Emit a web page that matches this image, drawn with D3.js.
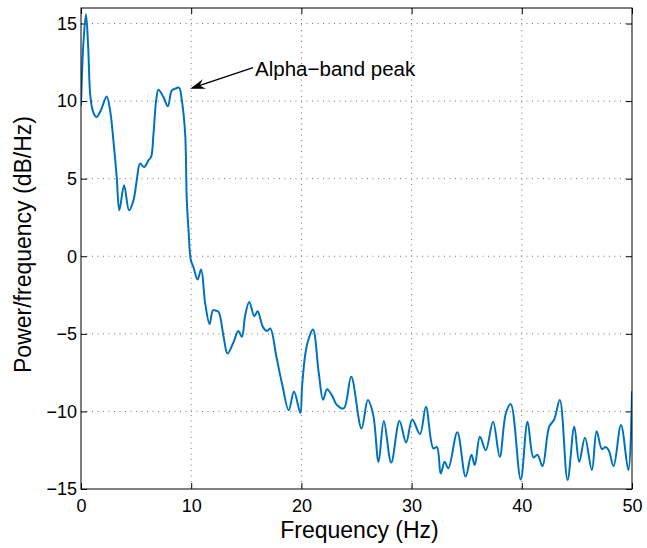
<!DOCTYPE html>
<html>
<head>
<meta charset="utf-8">
<script src="https://cdn.jsdelivr.net/npm/d3@7"></script>
<style>
  body { margin: 0; background: #fff; }
  text { font-family: "Liberation Sans", Arial, Helvetica, sans-serif; fill: #000; }
</style>
</head>
<body>
<svg id="chart" width="647" height="548"></svg>
<script>
// frequency (Hz) and power (dB/Hz)
var freq = [0, 0.2, 0.45, 0.65, 0.85, 1.1, 1.4, 1.8, 2.33, 2.64, 2.94, 3.24, 3.48, 3.91, 4.36, 4.76, 5.06, 5.36, 5.73, 6.12,
    6.36, 6.58, 6.82, 7.03, 7.48, 7.88, 8.24, 8.55, 8.9, 9.15, 9.45, 9.6, 9.76, 9.97, 10.2, 10.58, 10.9, 11.27, 11.67, 11.97,
    12.2, 12.48, 12.94, 13.3, 13.85, 14.27, 14.6, 14.9, 15.27, 15.73, 16.03, 16.5, 16.88, 17.18, 17.73, 18.24, 18.85, 19.33, 19.9, 20.06,
    20.36, 20.67, 21.05, 21.58, 21.97, 22.33, 22.79, 23.24, 23.85, 24.52, 25.45, 26.03, 26.52, 27.0, 27.48, 28.15, 28.9, 29.5, 30.06, 30.76,
    31.3, 31.97, 32.3, 32.64, 33.0, 33.33, 34.15, 34.9, 35.43, 35.73, 36.2, 36.73, 37.39, 38.0, 38.55, 39.0, 39.9, 40.52, 41.06, 41.42,
    41.88, 42.48, 42.94, 43.45, 44.15, 44.76, 45.21, 45.73, 46.36, 46.79, 47.27, 47.6, 47.88, 48.33, 49.0, 49.67, 50];
var power = [9.7, 13.5, 15.6, 13.5, 10.3, 9.3, 8.97, 9.4, 10.3, 9.4, 7.47, 5.1, 2.96, 4.57, 2.96, 3.6, 4.9, 5.97, 5.75, 6.18,
    6.4, 7.9, 10.05, 10.73, 10.26, 9.66, 10.69, 10.8, 10.86, 10.05, 7.9, 3.6, 1.67, -0.26, -0.69, -1.5, -0.86, -3.05, -4.38, -3.48,
    -3.5, -3.58, -5.19, -6.27, -5.52, -4.81, -5.19, -3.8, -2.94, -3.86, -3.54, -4.55, -4.81, -4.66, -6.48, -8.2, -9.92, -8.72, -10.1, -8.4,
    -6.27, -5.3, -4.72, -7.55, -9.25, -8.57, -9.0, -9.6, -9.8, -7.77, -11.1, -9.27, -10.24, -13.25, -10.62, -13.3, -10.62, -12.0, -10.52, -11.46,
    -9.7, -12.38, -12.3, -14.0, -13.25, -13.67, -11.35, -14.2, -12.8, -13.46, -11.63, -12.5, -10.67, -12.92, -10.13, -9.53, -14.38, -10.67, -12.96, -12.8,
    -13.52, -10.99, -10.52, -9.27, -14.42, -10.99, -13.25, -11.7, -13.78, -11.27, -12.43, -12.3, -12.49, -13.52, -10.88, -13.78, -8.7];

var xTicks = [0, 10, 20, 30, 40, 50];
var yTicks = [-15, -10, -5, 0, 5, 10, 15];
var xLabel = "Frequency (Hz)";
var yLabel = "Power/frequency (dB/Hz)";
var noteText = "Alpha\u2212band peak";
var notePoint = [9.9, 10.8];

var margin = {top: 8, right: 15, bottom: 59, left: 81};
var width = 647 - margin.left - margin.right;
var height = 548 - margin.top - margin.bottom;

var svg = d3.select("#chart");
var g = svg.append("g").attr("transform", "translate(" + margin.left + "," + margin.top + ")");

var x = d3.scaleLinear().domain([0, 50]).range([0, width]);
var y = d3.scaleLinear().domain([-15, 16]).range([height, 0]);

// dotted grid
g.append("g").selectAll("line").data(xTicks.filter(function(d) { return d > 0 && d < 50; }))
  .enter().append("line")
  .attr("x1", function(d) { return x(d); }).attr("x2", function(d) { return x(d); })
  .attr("y1", 0).attr("y2", height)
  .attr("stroke", "#777").attr("stroke-width", 1).attr("stroke-dasharray", "1,4.5");

g.append("g").selectAll("line").data(yTicks.filter(function(d) { return d > -15; }))
  .enter().append("line")
  .attr("x1", 0).attr("x2", width)
  .attr("y1", function(d) { return y(d); }).attr("y2", function(d) { return y(d); })
  .attr("stroke", "#777").attr("stroke-width", 1).attr("stroke-dasharray", "1,4.5");

// axes, ticks pointing inward like matlab
var fmt = d3.format("d");
function styleAxis(sel) {
  sel.select(".domain").remove();
  sel.selectAll(".tick line").attr("stroke", "#000");
  sel.selectAll(".tick text").style("font-size", "18px").style("font-family", "Liberation Sans, Arial, sans-serif");
}

g.append("g").attr("transform", "translate(0," + height + ")")
  .call(d3.axisBottom(x).tickValues(xTicks).tickFormat(fmt).tickSizeInner(-6).tickPadding(10))
  .call(styleAxis);
g.append("g")
  .call(d3.axisTop(x).tickValues(xTicks).tickSizeInner(-6).tickFormat(""))
  .call(styleAxis);
g.append("g")
  .call(d3.axisLeft(y).tickValues(yTicks).tickFormat(fmt).tickSizeInner(-6).tickPadding(4))
  .call(styleAxis);
g.append("g").attr("transform", "translate(" + width + ",0)")
  .call(d3.axisRight(y).tickValues(yTicks).tickSizeInner(-6).tickFormat(""))
  .call(styleAxis);

// clip and line
g.append("clipPath").attr("id", "clip")
  .append("rect").attr("width", width).attr("height", height);

var line = d3.line()
  .x(function(d) { return x(d[0]); })
  .y(function(d) { return y(d[1]); })
  .curve(d3.curveCatmullRom.alpha(0.5));

g.append("path")
  .datum(d3.zip(freq, power))
  .attr("clip-path", "url(#clip)")
  .attr("fill", "none")
  .attr("stroke", "#0072BD")
  .attr("stroke-width", 2)
  .attr("stroke-linejoin", "round")
  .attr("d", line);

// frame
g.append("rect").attr("width", width).attr("height", height)
  .attr("fill", "none").attr("stroke", "#000").attr("stroke-width", 1);

// annotation arrow
var tipX = x(notePoint[0]), tipY = y(notePoint[1]);
var tailX = tipX + 63, tailY = tipY - 21;
var ang = Math.atan2(tailY - tipY, tailX - tipX);
g.append("line")
  .attr("x1", tailX).attr("y1", tailY)
  .attr("x2", tipX + 8 * Math.cos(ang)).attr("y2", tipY + 8 * Math.sin(ang))
  .attr("stroke", "#000").attr("stroke-width", 1.3);

function pt(len, off) {
  return [tipX + len * Math.cos(ang) - off * Math.sin(ang), tipY + len * Math.sin(ang) + off * Math.cos(ang)];
}
var head = [pt(0, 0), pt(15, 5), pt(10, 0), pt(15, -5)];
g.append("path")
  .attr("d", "M" + head.join("L") + "Z")
  .attr("fill", "#000");

g.append("text")
  .attr("x", tailX + 2).attr("y", tailY + 8)
  .style("font-size", "20.5px")
  .text(noteText);

// axis labels
svg.append("text")
  .attr("x", margin.left + width / 2 + 3).attr("y", 538)
  .attr("text-anchor", "middle")
  .style("font-size", "23px")
  .text(xLabel);

svg.append("text")
  .attr("transform", "translate(31," + (margin.top + height / 2 - 4) + ") rotate(-90)")
  .attr("text-anchor", "middle")
  .style("font-size", "23px")
  .text(yLabel);
</script>
</body>
</html>
